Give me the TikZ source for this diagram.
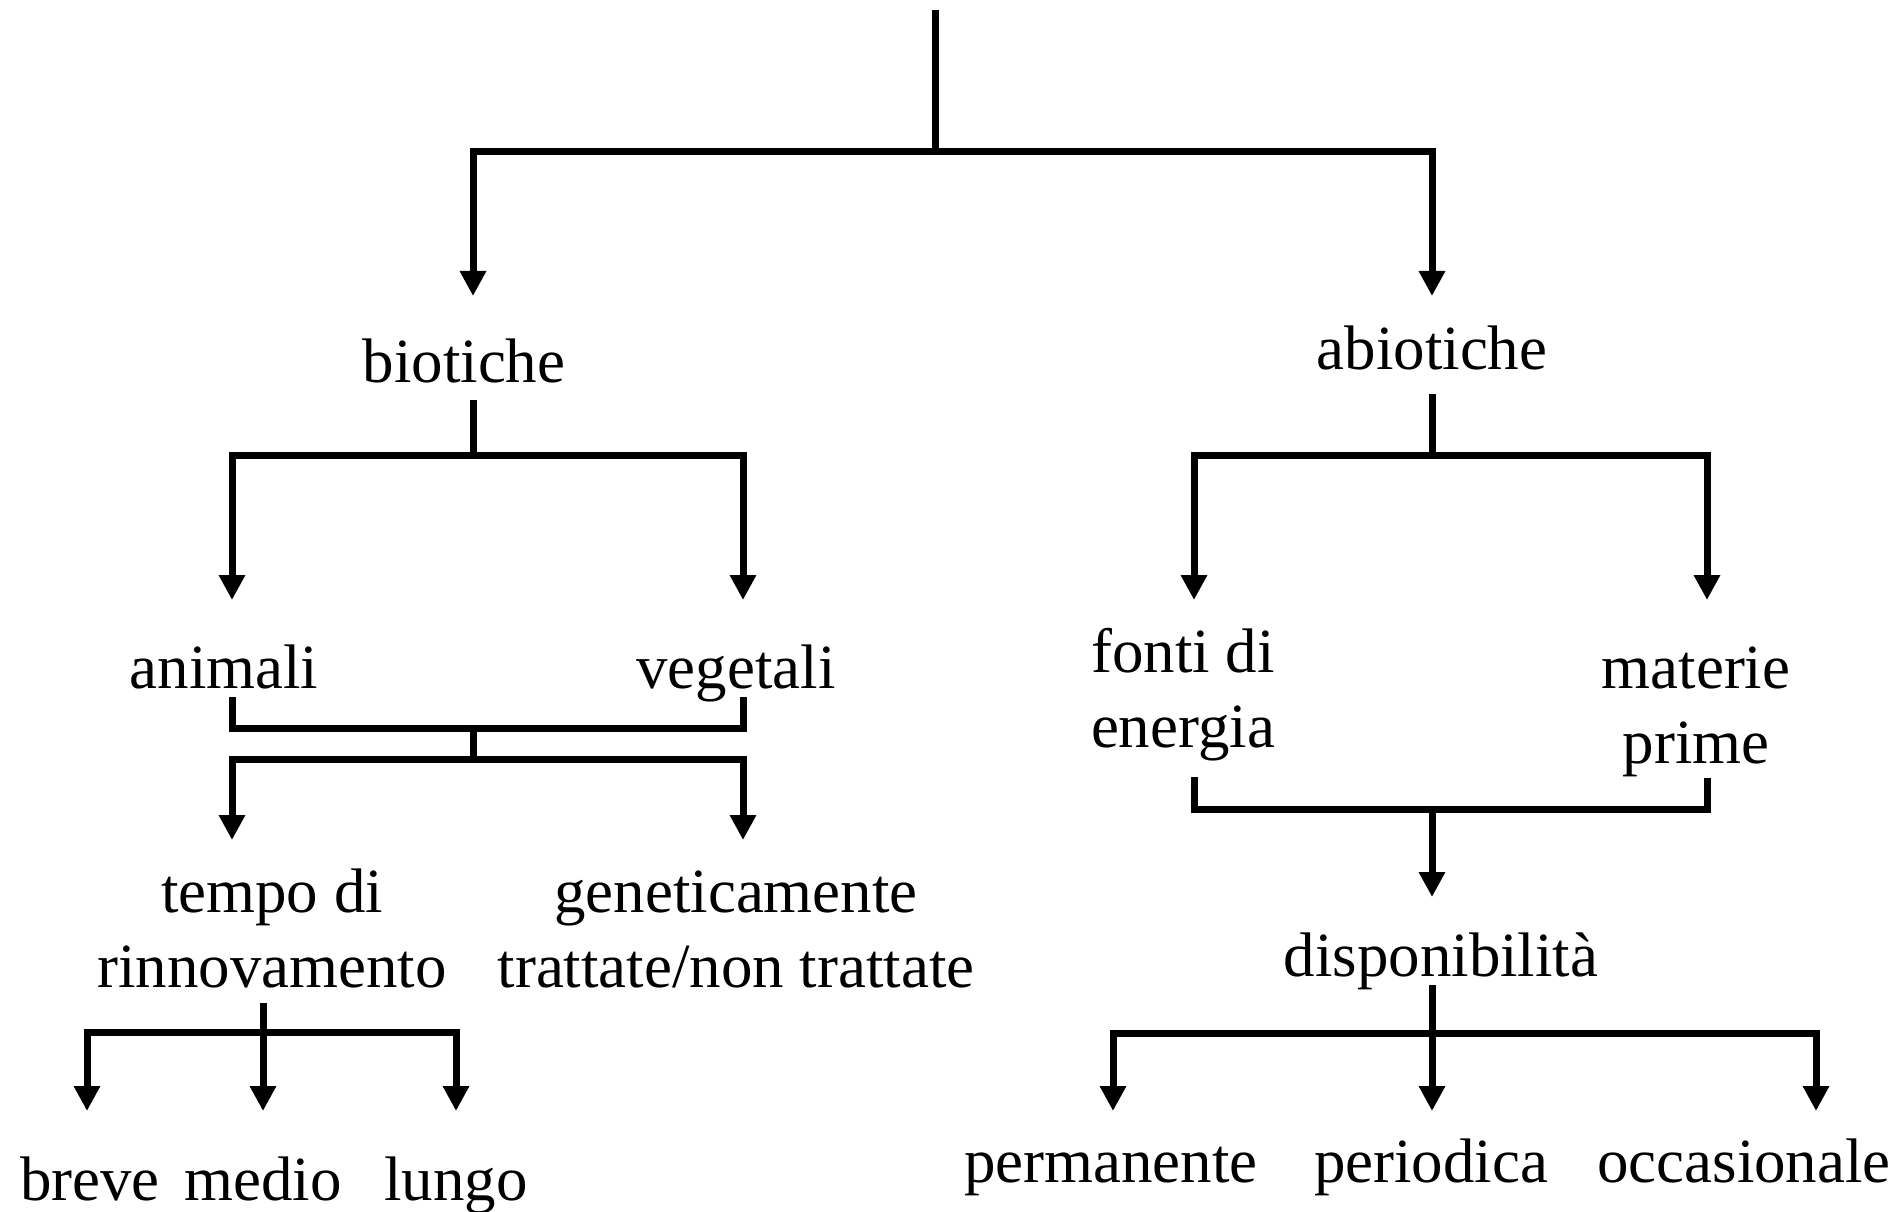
\documentclass[tikz,border=0pt]{standalone}
\usepackage{fontspec}
\setmainfont{Liberation Serif}
\usetikzlibrary{arrows.meta}

\begin{document}
\begin{tikzpicture}[x=0.02cm, y=-0.02cm,
    line/.style={line width=0.14cm, line join=miter},
    arr/.style={line, -{Triangle[length=0.5cm, width=0.5cm]}},
    lbl/.style={anchor=base, inner sep=0pt, align=center,
      font=\fontsize{35.8}{42.7}\selectfont}]
  \useasboundingbox (0,0) rectangle (1901,1212);

  % Labels (base = baseline of the last line)
  \node[lbl] (bio) at (464,383) {biotiche};
  \node[lbl] (abio) at (1432,370) {abiotiche};
  \node[lbl] (ani) at (224,689) {animali};
  \node[lbl] (veg) at (736,689) {vegetali};
  \node[lbl] (fonti) at (1183,748) {fonti di\\energia};
  \node[lbl] (mat) at (1696,764) {materie\\prime};
  \node[lbl] (tempo) at (272,988) {tempo di\\rinnovamento};
  \node[lbl] (gen) at (736,988) {geneticamente\\trattate/non trattate};
  \node[lbl] (disp) at (1441,976) {disponibilità};
  \node[lbl] (breve) at (90,1200) {breve};
  \node[lbl] (medio) at (263,1200) {medio};
  \node[lbl] (lungo) at (456,1200) {lungo};
  \node[lbl] (perm) at (1111,1182) {permanente};
  \node[lbl] (peri) at (1431,1182) {periodica};
  \node[lbl] (occ) at (1744,1182) {occasionale};

  % Junctions and arrow tips
  \coordinate (top) at (935,10);
  \coordinate (j0) at (935,152);
  \coordinate (tbio) at (473,296);
  \coordinate (tabio) at (1432,296);
  \coordinate (jb) at (473,456);
  \coordinate (tani) at (232,600);
  \coordinate (tveg) at (743,600);
  \coordinate (ja) at (1432,456);
  \coordinate (tfon) at (1194,600);
  \coordinate (tmat) at (1707,600);
  \coordinate (jav) at (473,729);
  \coordinate (jtg) at (473,760);
  \coordinate (ttem) at (232,840);
  \coordinate (tgen) at (743,840);
  \coordinate (jfm) at (1432,810);
  \coordinate (tdisp) at (1432,897);
  \coordinate (jt) at (263,1032);
  \coordinate (tbre) at (87,1111);
  \coordinate (tmed) at (263,1111);
  \coordinate (tlun) at (456,1111);
  \coordinate (jd) at (1432,1033);
  \coordinate (tperm) at (1113,1111);
  \coordinate (tperi) at (1432,1111);
  \coordinate (tocc) at (1816,1111);

  % Top level
  \draw[line] (top) -- (j0);
  \draw[arr] (j0) -| (tbio);
  \draw[arr] (j0) -| (tabio);

  % biotiche
  \draw[line, shorten <=0.34cm] (bio.base -| jb) -- (jb);
  \draw[arr] (jb) -| (tani);
  \draw[arr] (jb) -| (tveg);
  \draw[line, shorten <=0.16cm, shorten >=0.16cm]
    (ani.base -| tani) |- (jav) -| (veg.base -| tveg);
  \draw[line] (jav) -- (jtg);
  \draw[arr] (jtg) -| (ttem);
  \draw[arr] (jtg) -| (tgen);

  % tempo di rinnovamento
  \draw[arr, shorten <=0.28cm] (tempo.south -| tmed) -- (tmed);
  \draw[arr] (jt) -| (tbre);
  \draw[arr] (jt) -| (tlun);

  % abiotiche
  \draw[line, shorten <=0.48cm] (abio.base -| ja) -- (ja);
  \draw[arr] (ja) -| (tfon);
  \draw[arr] (ja) -| (tmat);
  \draw[line, shorten <=0.3cm] (fonti.south -| tfon) |- (jfm) -| (mat.south -| tmat);
  \draw[arr] (jfm) -- (tdisp);

  % disponibilita
  \draw[arr, shorten <=0.18cm] (disp.base -| tperi) -- (tperi);
  \draw[arr] (jd) -| (tperm);
  \draw[arr] (jd) -| (tocc);
\end{tikzpicture}
\end{document}
